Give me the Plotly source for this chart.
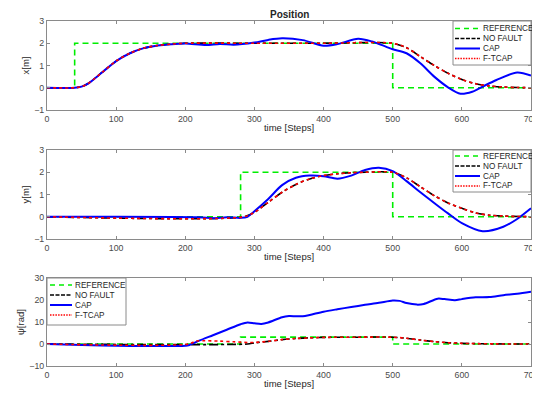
import plotly.graph_objects as go

# ---------------- data ----------------
# Panel 1: x position
ref_x_t = [0, 40, 40, 500, 500, 700]
ref_x_v = [0, 0, 2, 2, 0, 0]

nf_x_t = [0, 40, 50, 60, 80, 100, 120, 140, 160, 180, 200, 300, 400, 500, 520, 540, 560, 580, 600, 620, 640, 660, 680, 700]
nf_x_v = [0, 0, 0.05, 0.2, 0.7, 1.2, 1.55, 1.78, 1.9, 1.96, 2.0, 2.0, 2.0, 2.0, 1.8, 1.4, 1.0, 0.65, 0.37, 0.18, 0.08, 0.03, 0.01, 0.0]

cap_x_t = [0, 40, 50, 60, 80, 100, 120, 140, 160, 180, 200, 230, 250, 270, 300, 320, 340, 370, 400, 420, 450, 470, 490, 500, 520, 540, 560, 580, 598, 615, 630, 650, 680, 700]
cap_x_v = [0, 0, 0.05, 0.2, 0.7, 1.2, 1.55, 1.78, 1.9, 1.96, 1.99, 1.92, 1.97, 1.93, 2.03, 2.15, 2.22, 2.14, 1.89, 1.96, 2.2, 2.08, 1.85, 1.73, 1.55, 1.1, 0.5, 0.02, -0.27, -0.18, 0.05, 0.35, 0.69, 0.55]

ft_x_t = nf_x_t
ft_x_v = nf_x_v

# Panel 2: y position
ref_y_t = [0, 280, 280, 500, 500, 700]
ref_y_v = [0, 0, 2, 2, 0, 0]

nf_y_t = [0, 285, 300, 320, 340, 360, 380, 400, 420, 440, 460, 500, 520, 540, 560, 580, 600, 620, 640, 660, 700]
nf_y_v = [0, 0, 0.2, 0.65, 1.1, 1.45, 1.7, 1.85, 1.93, 1.98, 2.0, 2.0, 1.75, 1.35, 0.95, 0.62, 0.38, 0.17, 0.07, 0.03, 0.0]

cap_y_t = [0, 220, 240, 260, 280, 290, 300, 320, 340, 360, 380, 400, 420, 440, 460, 480, 500, 520, 540, 560, 580, 600, 630, 660, 680, 700]
cap_y_v = [0, -0.02, -0.07, -0.02, -0.05, 0.0, 0.25, 0.8, 1.42, 1.75, 1.85, 1.82, 1.71, 1.85, 2.1, 2.2, 2.05, 1.6, 1.1, 0.62, 0.15, -0.29, -0.65, -0.45, -0.1, 0.38]

ft_y_t = nf_y_t
ft_y_v = nf_y_v

# Panel 3: heading psi
ref_p_t = [0, 280, 280, 500, 500, 700]
ref_p_v = [0, 0, 3.14, 3.14, 0, 0]

nf_p_t = [0, 290, 300, 320, 340, 360, 380, 400, 450, 500, 520, 540, 560, 580, 600, 650, 700]
nf_p_v = [0, 0, 0.5, 1.2, 2.0, 2.5, 2.8, 3.0, 3.1, 3.1, 2.6, 1.8, 1.1, 0.6, 0.3, 0.05, 0.0]

cap_p_t = [0, 50, 100, 200, 205, 220, 240, 260, 280, 290, 300, 310, 320, 340, 350, 360, 370, 380, 400, 420, 440, 460, 480, 500, 510, 520, 535, 545, 565, 575, 590, 600, 620, 640, 660, 680, 700]
cap_p_v = [0, -0.5, -0.8, -0.8, -0.6, 1.5, 4.0, 6.5, 9.0, 9.8, 9.4, 9.1, 9.8, 12.2, 12.7, 12.6, 12.6, 13.2, 14.7, 15.8, 16.8, 17.8, 18.7, 19.8, 19.6, 18.6, 17.9, 18.2, 20.6, 20.4, 19.9, 20.4, 21.2, 21.4, 22.2, 22.8, 23.7]

ft_p_t = [0, 205, 215, 225, 250, 270, 290, 300, 320, 340, 360, 380, 400, 450, 500, 520, 540, 560, 580, 600, 650, 700]
ft_p_v = [0, 0, 1.3, 1.5, 1.3, 1.0, 0.7, 0.7, 1.2, 2.0, 2.5, 2.8, 3.0, 3.1, 3.1, 2.6, 1.8, 1.1, 0.6, 0.3, 0.05, 0.0]

x_ticks = [0, 100, 200, 300, 400, 500, 600, 700]
pos_ticks = [-1, 0, 1, 2, 3]
psi_ticks = [-10, 0, 10, 20, 30]

names = ["REFERENCE", "NO FAULT", "CAP", "F-TCAP"]
ytitles = ["x[m]", "y[m]", "ψ[rad]"]
xtitle = "time [Steps]"
title = "Position"

# ---------------- layout helpers ----------------
# The page body has an 8px margin, so the figure is drawn 8px in from the
# top-left corner of the window; the sizes below compensate for that.
OFF = 8
SW, SH = 540, 394                # screen window
X_LEFT, X_RIGHT = 47, 531        # plot area, screen px
W, H = SW - OFF, SH - OFF        # figure size
ML, MR, MT, MB = X_LEFT - OFF, SW - X_RIGHT, 20 - OFF, SH - 366
PW, PH = W - ML - MR, H - MT - MB


def fx(px):   # screen px -> paper x
    return (px - OFF - ML) / PW


def fy(py):   # screen px -> paper y
    return 1 - (py - OFF - MT) / PH


panel_px = [(21, 110), (150, 239), (278, 366)]
domains = [[max(0, fy(b)), min(1, fy(t))] for t, b in panel_px]

styles = [
    dict(color="#00EE00", width=1.6, dash="6px,4px"),
    dict(color="black", width=1.6, dash="dashdot"),
    dict(color="#0000FF", width=2.0),
    dict(color="#FF0000", width=1.6, dash="dot"),
]
legend_styles = [
    dict(color="#00EE00", width=1.6, dash="5px,4px"),
    dict(color="black", width=1.6, dash="4px,1.5px"),
    dict(color="#0000FF", width=2.0),
    dict(color="#FF0000", width=1.6, dash="1.5px,1.2px"),
]

panels = [
    [(ref_x_t, ref_x_v), (nf_x_t, nf_x_v), (cap_x_t, cap_x_v), (ft_x_t, ft_x_v)],
    [(ref_y_t, ref_y_v), (nf_y_t, nf_y_v), (cap_y_t, cap_y_v), (ft_y_t, ft_y_v)],
    [(ref_p_t, ref_p_v), (nf_p_t, nf_p_v), (cap_p_t, cap_p_v), (ft_p_t, ft_p_v)],
]

fig = go.Figure()
for i, panel in enumerate(panels):
    xa = "x" if i == 0 else f"x{i+1}"
    ya = "y" if i == 0 else f"y{i+1}"
    for j, (t, v) in enumerate(panel):
        if j == 0:
            line = dict(**styles[j])
        else:
            line = dict(**styles[j], shape="spline", smoothing=0.8)
        fig.add_trace(go.Scatter(x=t, y=v, mode="lines", name=names[j], line=line,
                                 xaxis=xa, yaxis=ya, showlegend=False))

FONT = "Liberation Sans, Arial"
axis_common = dict(
    showline=True, linecolor="#8a8a8a", linewidth=1, mirror="ticks",
    ticks="inside", ticklen=3, tickcolor="#8a8a8a", showgrid=False, zeroline=False,
    automargin=False,
    tickfont=dict(family=FONT, size=8.8, color="#4a4a4a"),
)
yranges = [[-1, 3], [-1, 3], [-10, 30]]
yticks = [pos_ticks, pos_ticks, psi_ticks]

layout = dict(
    width=W, height=H, margin=dict(l=ML, r=MR, t=MT, b=MB, autoexpand=False),
    paper_bgcolor="white", plot_bgcolor="white", showlegend=False,
    font=dict(family=FONT, size=9, color="#262626"),
)
for i in range(3):
    xk = "xaxis" if i == 0 else f"xaxis{i+1}"
    yk = "yaxis" if i == 0 else f"yaxis{i+1}"
    layout[xk] = dict(axis_common, domain=[0, 1], range=[0, 700], tickvals=x_ticks,
                      anchor="y" if i == 0 else f"y{i+1}",
                      title=dict(text=xtitle, standoff=1, font=dict(size=9.5, color="#262626")))
    layout[yk] = dict(axis_common, domain=domains[i], range=yranges[i], tickvals=yticks[i],
                      anchor="x" if i == 0 else f"x{i+1}",
                      title=dict(text=ytitles[i], standoff=2, font=dict(size=9.5, color="#262626")))

# ---------------- manual legends (MATLAB-style, compact) ----------------
shapes = []
annotations = []
legend_boxes = [
    # box x0, x1, y0, y1, sample x0, x1, item ys  (screen px)
    (453, 531, 21, 65, 455, 480, [28.5, 38.5, 48.5, 58.5]),
    (453, 531, 150, 192, 455, 480, [156, 166, 176, 186]),
    (47, 126, 278, 325, 50, 72, [285, 295, 305, 315]),
]
for bx0, bx1, by0, by1, sx0, sx1, ys in legend_boxes:
    shapes.append(dict(type="rect", xref="paper", yref="paper",
                       x0=fx(bx0), x1=fx(bx1), y0=fy(by1), y1=fy(by0),
                       line=dict(color="#8a8a8a", width=1), fillcolor="white", layer="above"))
    for j, yy in enumerate(ys):
        shapes.append(dict(type="line", xref="paper", yref="paper",
                           x0=fx(sx0), x1=fx(sx1), y0=fy(yy), y1=fy(yy),
                           line=legend_styles[j], layer="above"))
        annotations.append(dict(text=names[j], xref="paper", yref="paper",
                                x=fx(sx1 + 0.5), y=fy(yy), xanchor="left", yanchor="middle",
                                showarrow=False, font=dict(family=FONT, size=8.2, color="#262626")))

annotations.append(dict(text=f"<b>{title}</b>", x=fx((X_LEFT + X_RIGHT) / 2), y=fy(14.5),
                        xref="paper", yref="paper", showarrow=False,
                        font=dict(family=FONT, size=10, color="#262626"), yanchor="middle"))
layout["shapes"] = shapes
layout["annotations"] = annotations

fig.update_layout(**layout)
fig.write_html("out.html", config={"displayModeBar": False})
